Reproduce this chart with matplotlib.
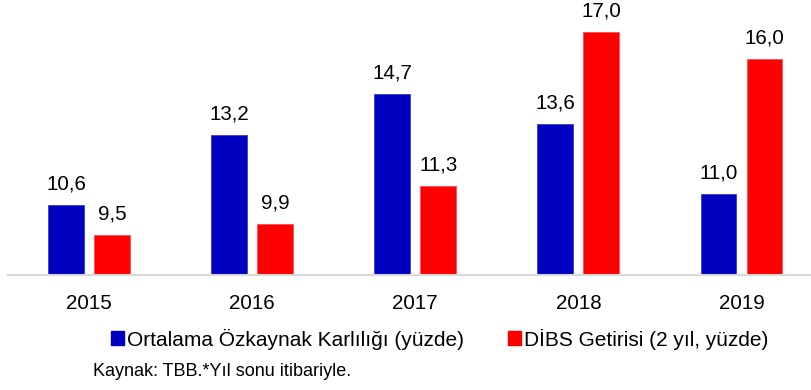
import matplotlib
matplotlib.use("Agg")
import matplotlib.pyplot as plt
from matplotlib.patches import Patch
import numpy as np

plt.rcParams['font.family'] = ['Liberation Sans', 'DejaVu Sans']

years = ["2015", "2016", "2017", "2018", "2019"]
roe = [10.6, 13.2, 14.7, 13.6, 11.0]
dibs = [9.5, 9.9, 11.3, 17.0, 16.0]
series_names = ["Ortalama Özkaynak Karlılığı (yüzde)", "DİBS Getirisi (2 yıl, yüzde)"]
source_note = "Kaynak: TBB.*Yıl sonu itibariyle."

blue = "#0000C0"
red = "#FF0000"

W, H = 811, 390
fig = plt.figure(figsize=(W / 100, H / 100), dpi=100)
ax_left, ax_right, ax_top, ax_bottom = 7.5, 823, 5, 275
ax = fig.add_axes([ax_left / W, (H - ax_bottom) / H,
                   (ax_right - ax_left) / W, (ax_bottom - ax_top) / H])

x = np.arange(len(years))
bw = 0.22
off = 0.141
b1 = ax.bar(x - off, roe, bw, color=blue, edgecolor="#3C3CD0", linewidth=0.6)
b2 = ax.bar(x + off, dibs, bw, color=red, edgecolor="#FF5050", linewidth=0.6)

fmt = lambda v: f"{v:.1f}".replace(".", ",")
ax.bar_label(b1, labels=[fmt(v) for v in roe], padding=8, fontsize=14.8)
ax.bar_label(b2, labels=[fmt(v) for v in dibs], padding=8, fontsize=14.8)

ax.set_ylim(8, 18)
ax.set_xlim(-0.5, len(years) - 0.5)
ax.set_xticks(x)
ax.set_xticklabels(years, fontsize=14.8)
ax.tick_params(axis='x', length=0, pad=13.5)
ax.set_yticks([])
for s in ["top", "right", "left"]:
    ax.spines[s].set_visible(False)
ax.spines["bottom"].set_color("#D9D9D9")
ax.spines["bottom"].set_linewidth(1.5)

handles = [Patch(color=blue), Patch(color=red)]
fig.legend(handles, series_names, loc="center", bbox_to_anchor=(440 / W, 1 - 339 / H),
           ncol=2, frameon=False, fontsize=15, handlelength=0.62, handleheight=0.62,
           handletextpad=0.15, columnspacing=2.1, borderpad=0, borderaxespad=0)

fig.text(93 / W, 1 - 371 / H, source_note, fontsize=13, va="center", ha="left")

fig.savefig("out.png", dpi=100)
